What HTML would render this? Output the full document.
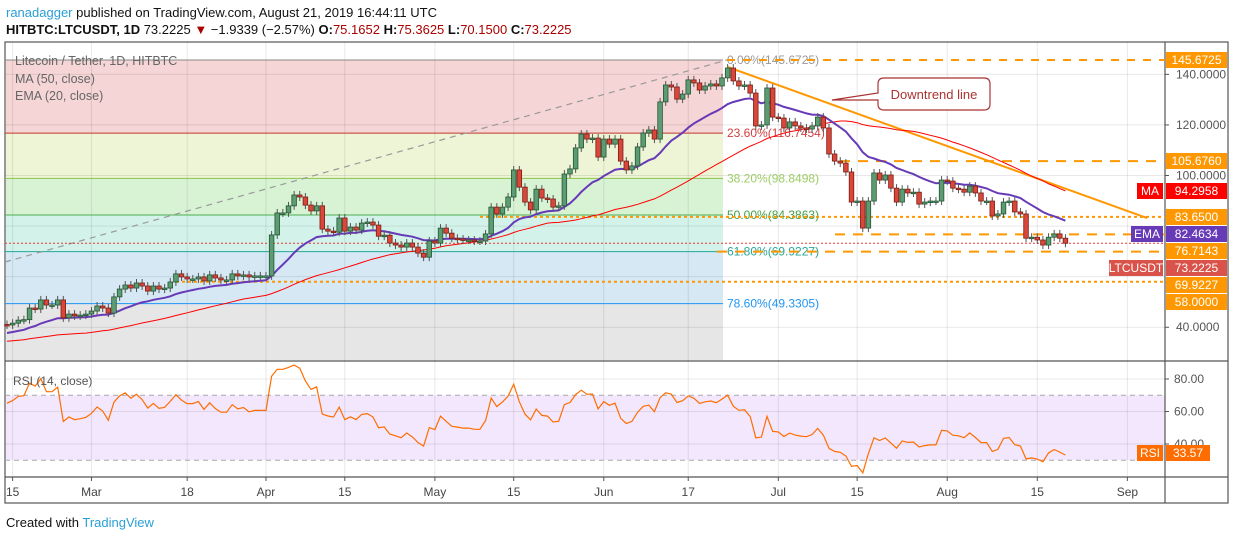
<!DOCTYPE html>
<html><head><meta charset="utf-8">
<style>
body{margin:0;background:#fff;width:1234px;height:540px;overflow:hidden;font-family:"Liberation Sans",sans-serif;}
svg text{font-family:"Liberation Sans",sans-serif;}
</style></head>
<body>
<svg id="chart" width="1234" height="540" viewBox="0 0 1234 540">
<text x="6" y="17" font-size="13" fill="#111"><tspan fill="#2a9fd8">ranadagger</tspan> published on TradingView.com, August 21, 2019 16:44:11 UTC</text>
<text x="6" y="34" font-size="13" fill="#111"><tspan font-weight="bold">HITBTC:LTCUSDT, 1D</tspan> 73.2225 <tspan fill="#a00">▼</tspan> −1.9339 (−2.57%) <tspan font-weight="bold">O:</tspan><tspan fill="#a00">75.1652</tspan> <tspan font-weight="bold">H:</tspan><tspan fill="#a00">75.3625</tspan> <tspan font-weight="bold">L:</tspan><tspan fill="#a00">70.1500</tspan> <tspan font-weight="bold">C:</tspan><tspan fill="#a00">73.2225</tspan></text>
<g id="bg"></g>
<g id="grid"></g>
<g id="fib"></g>
<g id="levels"></g>
<g id="ind"></g>
<g id="candles"></g>
<g id="rsi"></g>
<g id="axes"></g>
<text x="6" y="527" font-size="13" fill="#111">Created with <tspan fill="#2a9fd8">TradingView</tspan></text>
</svg>
<script>
const priorCloses=[28.7,31,31.5,33,30.5,31.9,35.8,32.9,34.1,34.2,36.1,36.6,37.9,38,38.4,33,32.9,32.3,32.6,31.5,31.8,32.5,32.8,31.9,31.4,32.8,32.4,32,31.7,31.8,31.6,32.3,32.1,31.2,30.9,32.1,32.2,32.6,32.7,33.3,33.6,33.2,33.7,41.3,41.6,43.6,41.4,42.6,42.9,41.1];
const closes=[40.9,41.6,42.8,43,47.6,47.2,50.8,48.8,48.8,50.8,43.7,45.2,44.5,44.8,45.2,46.4,48.4,47.6,45.6,
52,55.1,56.7,55.5,57.5,56.3,54.3,56.3,55.1,55.5,57.9,61.1,59.9,59.1,59.1,59.9,58.3,60.7,59.5,58.7,58.7,61.1,60.3,60.7,59.9,60.3,60.3,60.3,
76.5,85.2,85.2,88,92.3,91.5,88.3,86,88,78.8,78,77.6,83.2,78,
79.6,78.4,81.2,81.6,80.4,76,76.4,73.3,72.5,71.7,73.3,71.7,69.3,67.7,74.1,73.3,79.2,77.2,75.2,74.9,74.5,74.5,74.1,74.1,76.9,87.5,84.8,87.5,91.5,102.2,95.4,89.5,86.4,94.6,91.1,90.7,87.5,88,100.6,102.6,110.9,116.4,114.4,114.8,107.3,114.4,112.4,114.4,105.7,102.2,103.8,111.3,116.8,118,114.4,129.1,135.8,135,130.2,132.2,137.8,136.6,133.8,135.4,136.2,135.4,
138.6,142.5,137.4,135.4,135.8,132.6,119.6,120,134.6,123.1,122.7,118.8,121.2,119.6,118.8,118.4,119.6,123.1,118.8,108.5,105.7,104.9,101.4,89.5,89.9,79.2,89.9,101,98.2,100.2,95,89.5,94.6,93.1,93.4,88.7,89.5,89.9,89.9,98.2,97.8,95,94.6,93.4,95.8,93.1,89.9,89.9,84,84.8,89.5,89.9,85.6,84.8,75.2,75.6,74.5,72.5,75.6,76.9,75.2,73.22];
const dateLabels=["15","Mar","18","Apr","15","May","15","Jun","17","Jul","15","Aug","15","Sep"];
const dateIdx=[1,15,32,46,60,76,90,106,121,137,151,167,183,199];
const priceTicks=[140,120,100,40];
const rsiTicks=[80,60,40];
const fibLevels=[145.6725,116.7454,98.8498,84.3863,69.9227,49.3305];
const fibPct=["0.00%","23.60%","38.20%","50.00%","61.80%","78.60%"];

const NS="http://www.w3.org/2000/svg";
function mk(parent,tag,attrs){const e=document.createElementNS(NS,tag);for(const k in attrs)e.setAttribute(k,attrs[k]);document.getElementById(parent).appendChild(e);return e;}
const X0=7,DX=5.63,L=5,R=1165,T=42,B=360,RT=362,RB=477;
const xS=i=>X0+i*DX;
const yS=p=>60+(145.6725-p)*2.529;
const yR=r=>379+(80-r)*1.625;

let e;
e=mk('bg','rect',{x:L,y:T,width:1228-L,height:503-T,fill:'#fff',stroke:'#555','stroke-width':1.2});


const zoneCols=['#f5d5d5','#eef5d6','#d8f2d4','#d3f3ea','#d5e8f4'];
for(let k=0;k<5;k++){
 e=mk('bg','rect',{x:L+1,y:yS(fibLevels[k]),width:723-L-1,height:yS(fibLevels[k+1])-yS(fibLevels[k]),fill:zoneCols[k]});
 
 
}
e=mk('bg','rect',{x:L+1,y:yS(fibLevels[5]),width:723-L-1,height:B-yS(fibLevels[5]),fill:'#e6e6e6'});


e=mk('bg','rect',{x:L+1,y:yR(70),width:R-L-1,height:yR(30)-yR(70),fill:'#f3e7fd'});


mk('bg','line',{x1:L,y1:B+1,x2:1228,y2:B+1,stroke:'#555','stroke-width':1.2});
mk('bg','line',{x1:L,y1:RB,x2:1228,y2:RB,stroke:'#555','stroke-width':1.2});
mk('bg','line',{x1:R,y1:T,x2:R,y2:503,stroke:'#555','stroke-width':1.2});

dateIdx.forEach((d,i)=>{
 const x=xS(d);
 mk('grid','line',{x1:x,y1:T,x2:x,y2:RB,stroke:'rgba(0,0,0,0.09)'});
 e=mk('axes','text',{x:x,y:496,'font-size':12,fill:'#444','text-anchor':'middle'});
 e.textContent=dateLabels[i];
 
 
 mk('axes','line',{x1:x,y1:RB,x2:x,y2:RB+4,stroke:'#555'});
});
[140,120,100,80,60,40].forEach(p=>mk('grid','line',{x1:L,y1:yS(p),x2:R,y2:yS(p),stroke:'rgba(0,0,0,0.09)'}));
[80,60,40].forEach(r=>mk('grid','line',{x1:L,y1:yR(r),x2:R,y2:yR(r),stroke:'rgba(0,0,0,0.09)'}));
[70,30].forEach(r=>mk('grid','line',{x1:L,y1:yR(r),x2:R,y2:yR(r),stroke:'#aaa','stroke-dasharray':'5,4'}));
priceTicks.forEach(p=>{
 e=mk('axes','text',{x:1176,y:yS(p)+4,'font-size':12,fill:'#555'});
 e.textContent=p.toFixed(4);
 
 
 mk('axes','line',{x1:R,y1:yS(p),x2:R+4,y2:yS(p),stroke:'#555'});
});
rsiTicks.forEach(r=>{
 e=mk('axes','text',{x:1174,y:yR(r)+4,'font-size':12,fill:'#555'});
 e.textContent=r.toFixed(2);
 
 
 mk('axes','line',{x1:R,y1:yR(r),x2:R+4,y2:yR(r),stroke:'#555'});
});

const fibCols=['#888','#c0392b','#8bc34a','#4caf50','#26a69a','#2196f3'];
const fibTextCols=['#999','#d04040','#9ccc65','#43a047','#26a69a','#2196f3'];
fibLevels.forEach((p,k)=>{
 e=mk('fib','line',{x1:L,y1:yS(p),x2:723,y2:yS(p),stroke:fibCols[k],'stroke-width':1});
 
 
 e=mk('fib','text',{x:727,y:yS(p)+4,'font-size':12,fill:fibTextCols[k]});
 e.textContent=fibPct[k]+'('+p.toFixed(4)+')';
 
 
});
e=mk('fib','line',{x1:L,y1:262,x2:727,y2:60,stroke:'#999','stroke-width':1.2,'stroke-dasharray':'6,5'});



const lv=[[145.6725,727,'8,8'],[105.676,840,'10,8'],[83.65,480,'3,3'],[76.7143,835,'10,8'],[69.9227,717,'10,8'],[58,176,'3,3']];
lv.forEach(v=>{
 e=mk('levels','line',{x1:v[1],y1:yS(v[0]),x2:R,y2:yS(v[0]),stroke:'#ff9800','stroke-width':2,'stroke-dasharray':v[2]});
 
 
});
e=mk('levels','line',{x1:L,y1:yS(73.2225),x2:R,y2:yS(73.2225),stroke:'#e53935','stroke-width':1,'stroke-dasharray':'2,2'});


e=mk('levels','line',{x1:xS(128),y1:67,x2:1147,y2:218,stroke:'#ff9800','stroke-width':2});



const all=priorCloses.concat(closes),P=priorCloses.length;
let ma=[],ema=[],em=all.slice(0,20).reduce((a,b)=>a+b)/20;
for(let i=0;i<all.length;i++){
 if(i>=20)em=all[i]*2/21+em*19/21;
 if(i>=P){
  ma.push(all.slice(i-49,i+1).reduce((a,b)=>a+b)/50);
  ema.push(em);
 }
}
const pth=(arr,f)=>arr.map((v,i)=>(i?'L':'M')+xS(i).toFixed(1)+','+f(v).toFixed(1)).join(' ');
e=mk('ind','path',{d:pth(ma,yS),fill:'none',stroke:'#f00','stroke-width':1});


e=mk('ind','path',{d:pth(ema,yS),fill:'none',stroke:'#673ab7','stroke-width':2});



for(let i=0;i<closes.length;i++){
 const c=closes[i],o=i?closes[i-1]:priorCloses[P-1];
 const up=c>=o,x=xS(i);
 const yt=yS(Math.max(o,c)),yb=yS(Math.min(o,c));
 mk('candles','line',{x1:x,y1:yt-4,x2:x,y2:yb+4,stroke:'#555','stroke-width':1});
 e=mk('candles','rect',{x:x-2.3,y:yt,width:4.6,height:Math.max(1.5,yb-yt),fill:up?'#5d9c73':'#d9473a',stroke:up?'#225533':'#7a1d15','stroke-width':0.8});
 
 
}

let ag=0,al=0,rs=[];
for(let i=1;i<all.length;i++){
 const d=all[i]-all[i-1],g=Math.max(d,0),l=Math.max(-d,0);
 if(i<=14){ag+=g/14;al+=l/14;}else{ag=(ag*13+g)/14;al=(al*13+l)/14;}
 if(i>=P)rs.push(100-100/(1+ag/(al||1e-9)));
}
e=mk('rsi','path',{d:pth(rs,yR),fill:'none',stroke:'#ff6d00','stroke-width':1.2});



function box(x,y,w,fill,txt,tc,name){
 const r=mk('axes','rect',{x:x,y:y-8,width:w,height:16,fill:fill});
 
 
 const t=mk('axes','text',{x:x+w/2,y:y+4,'font-size':12,fill:tc,'text-anchor':'middle'});
 t.textContent=txt;
 
 
}
box(1166,60,61,'#ff9800','145.6725','#fff','price-label-145');
box(1166,161,61,'#ff9800','105.6760','#fff','price-label-105');
box(1166,217,61,'#ff9800','83.6500','#fff','price-label-83');
box(1166,251,61,'#ff9800','76.7143','#fff','price-label-76');
box(1166,285,61,'#ff9800','69.9227','#fff','price-label-69');
box(1166,302,61,'#ff9800','58.0000','#fff','price-label-58');
box(1166,191,61,'#ff0000','94.2958','#fff','ma-value');
box(1137,191,26,'#ff0000','MA','#fff','ma-tag');
box(1166,234,61,'#673ab7','82.4634','#fff','ema-value');
box(1131,234,32,'#673ab7','EMA','#fff','ema-tag');
box(1166,268,61,'#d9534a','73.2225','#fff','last-price-value');
box(1109,268,54,'#d9534a','LTCUSDT','#fff','symbol-tag');
box(1166,453,44,'#ff6d00','33.57','#fff','rsi-value');
box(1137,453,26,'#ff6d00','RSI','#fff','rsi-tag');

[['Litecoin / Tether, 1D, HITBTC',65],['MA (50, close)',83],['EMA (20, close)',100]].forEach(a=>{
 e=mk('axes','text',{x:15,y:a[1],'font-size':12.5,fill:'#666'});
 e.textContent=a[0];
 
 
});
e=mk('axes','text',{x:13,y:385,'font-size':12,fill:'#555'});
e.textContent='RSI (14, close)';



e=mk('axes','path',{d:'M884,78 H984 Q990,78 990,84 V104 Q990,110 984,110 H884 Q878,110 878,104 V100 L832,100 L878,93 V84 Q878,78 884,78 Z',fill:'#fff',stroke:'#a33','stroke-width':1.2});


e=mk('axes','text',{x:934,y:99,'font-size':13,fill:'#a33','text-anchor':'middle'});
e.textContent='Downtrend line';


</script>
</body></html>
